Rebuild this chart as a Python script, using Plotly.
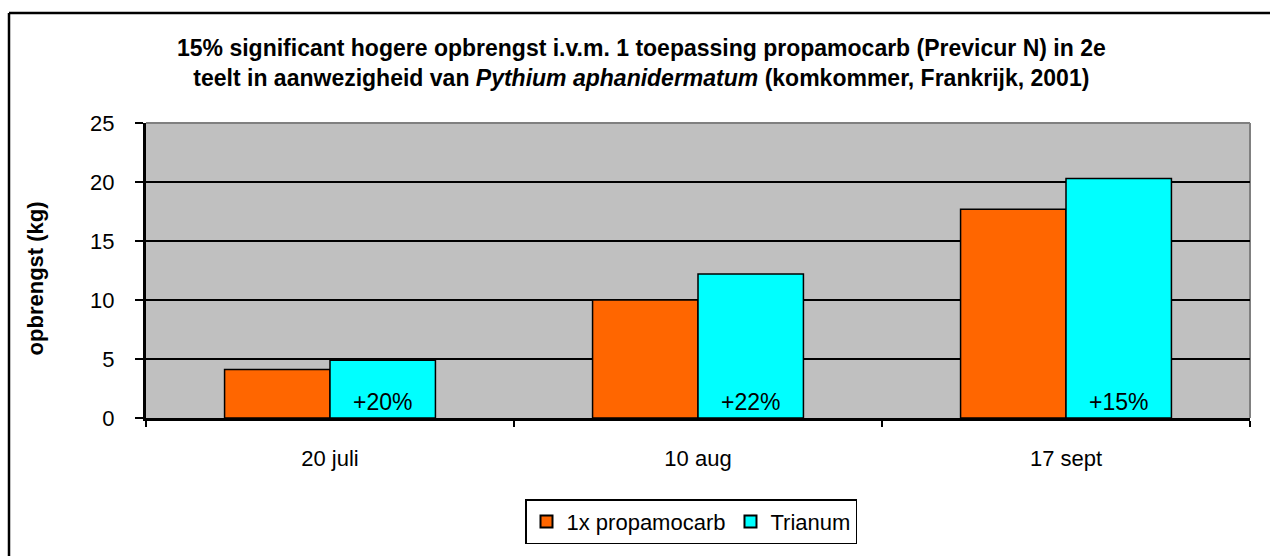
import plotly.graph_objects as go

categories = ["20 juli", "10 aug", "17 sept"]
propamocarb = [4.1, 10.0, 17.7]
trianum = [4.9, 12.2, 20.3]
increase_labels = ["+20%", "+22%", "+15%"]
y_ticks = [0, 5, 10, 15, 20, 25]

FONT = "Liberation Sans, Arial, sans-serif"
W, H = 1270, 556
L, R, T, B = 146, 20, 123, 135
PW, PH = W - L - R, H - T - B


def px(x):
    return (x - L) / PW


def py(y):
    return (H - B - y) / PH


fig = go.Figure()
fig.add_trace(go.Bar(
    x=categories, y=propamocarb, name="1x propamocarb",
    marker=dict(color="#FF6600", line=dict(color="black", width=1.5)),
))
fig.add_trace(go.Bar(
    x=categories, y=trianum, name="Trianum",
    marker=dict(color="#00FFFF", line=dict(color="black", width=1.5)),
    text=increase_labels, textposition="inside", insidetextanchor="start",
    textangle=0, constraintext="none",
    textfont=dict(family=FONT, size=23, color="black"),
))

fig.update_layout(
    width=W, height=H,
    margin=dict(l=L, r=R, t=T, b=B),
    paper_bgcolor="white", plot_bgcolor="#C0C0C0",
    barmode="group", bargap=0.427, bargroupgap=0,
    font=dict(family=FONT, size=22, color="black"),
    showlegend=True,
    legend=dict(
        orientation="h", x=px(691), y=py(503), xanchor="center", yanchor="top",
        bordercolor="black", borderwidth=1.5, bgcolor="white",
        font=dict(family=FONT, size=22, color="black"),
        itemsizing="constant", traceorder="normal",
    ),
    xaxis=dict(
        showgrid=False, showline=True, linecolor="black", linewidth=3,
        ticks="outside", tickson="boundaries", ticklen=6, tickwidth=2, tickcolor="black",
        tickfont=dict(family=FONT, size=22, color="black"),
        ticklabelstandoff=19,
    ),
    yaxis=dict(
        range=[0, 25], tickvals=y_ticks, showgrid=True, gridcolor="black", gridwidth=1.8,
        showline=True, linecolor="black", linewidth=3, zeroline=False,
        ticks="outside", ticklen=8, tickwidth=2, tickcolor="black",
        tickfont=dict(family=FONT, size=22, color="black"),
        ticklabelstandoff=16,
    ),
    shapes=[
        # plot area top/right border (grey)
        dict(type="line", xref="paper", yref="paper", x0=0, x1=1, y0=1, y1=1,
             line=dict(color="#808080", width=2), layer="below"),
        dict(type="line", xref="paper", yref="paper", x0=1, x1=1, y0=0, y1=1,
             line=dict(color="#808080", width=2), layer="below"),
        # chart outer border (top and left visible)
        dict(type="line", xref="paper", yref="paper", x0=px(9), x1=px(1300), y0=py(12), y1=py(12),
             line=dict(color="black", width=2.5)),
        dict(type="line", xref="paper", yref="paper", x0=px(9), x1=px(9), y0=py(12), y1=py(600),
             line=dict(color="black", width=2.5)),
    ],
    annotations=[
        dict(
            text="<b>15% significant hogere opbrengst i.v.m. 1 toepassing propamocarb (Previcur N) in 2e<br>"
                 "teelt in aanwezigheid van <i>Pythium aphanidermatum</i> (komkommer, Frankrijk, 2001)</b>",
            xref="paper", yref="paper", x=px(641), y=py(62), xanchor="center", yanchor="middle",
            showarrow=False, font=dict(family=FONT, size=23, color="black"),
            align="center",
        ),
        dict(
            text="<b>opbrengst (kg)</b>", xref="paper", yref="paper",
            x=px(35), y=py(280), xanchor="center", yanchor="middle", textangle=-90,
            showarrow=False, font=dict(family=FONT, size=22, color="black"),
        ),
    ],
)

fig.write_html("out.html", config={"displayModeBar": False},
               post_script="document.body.style.margin='0';document.body.style.overflow='hidden';")
